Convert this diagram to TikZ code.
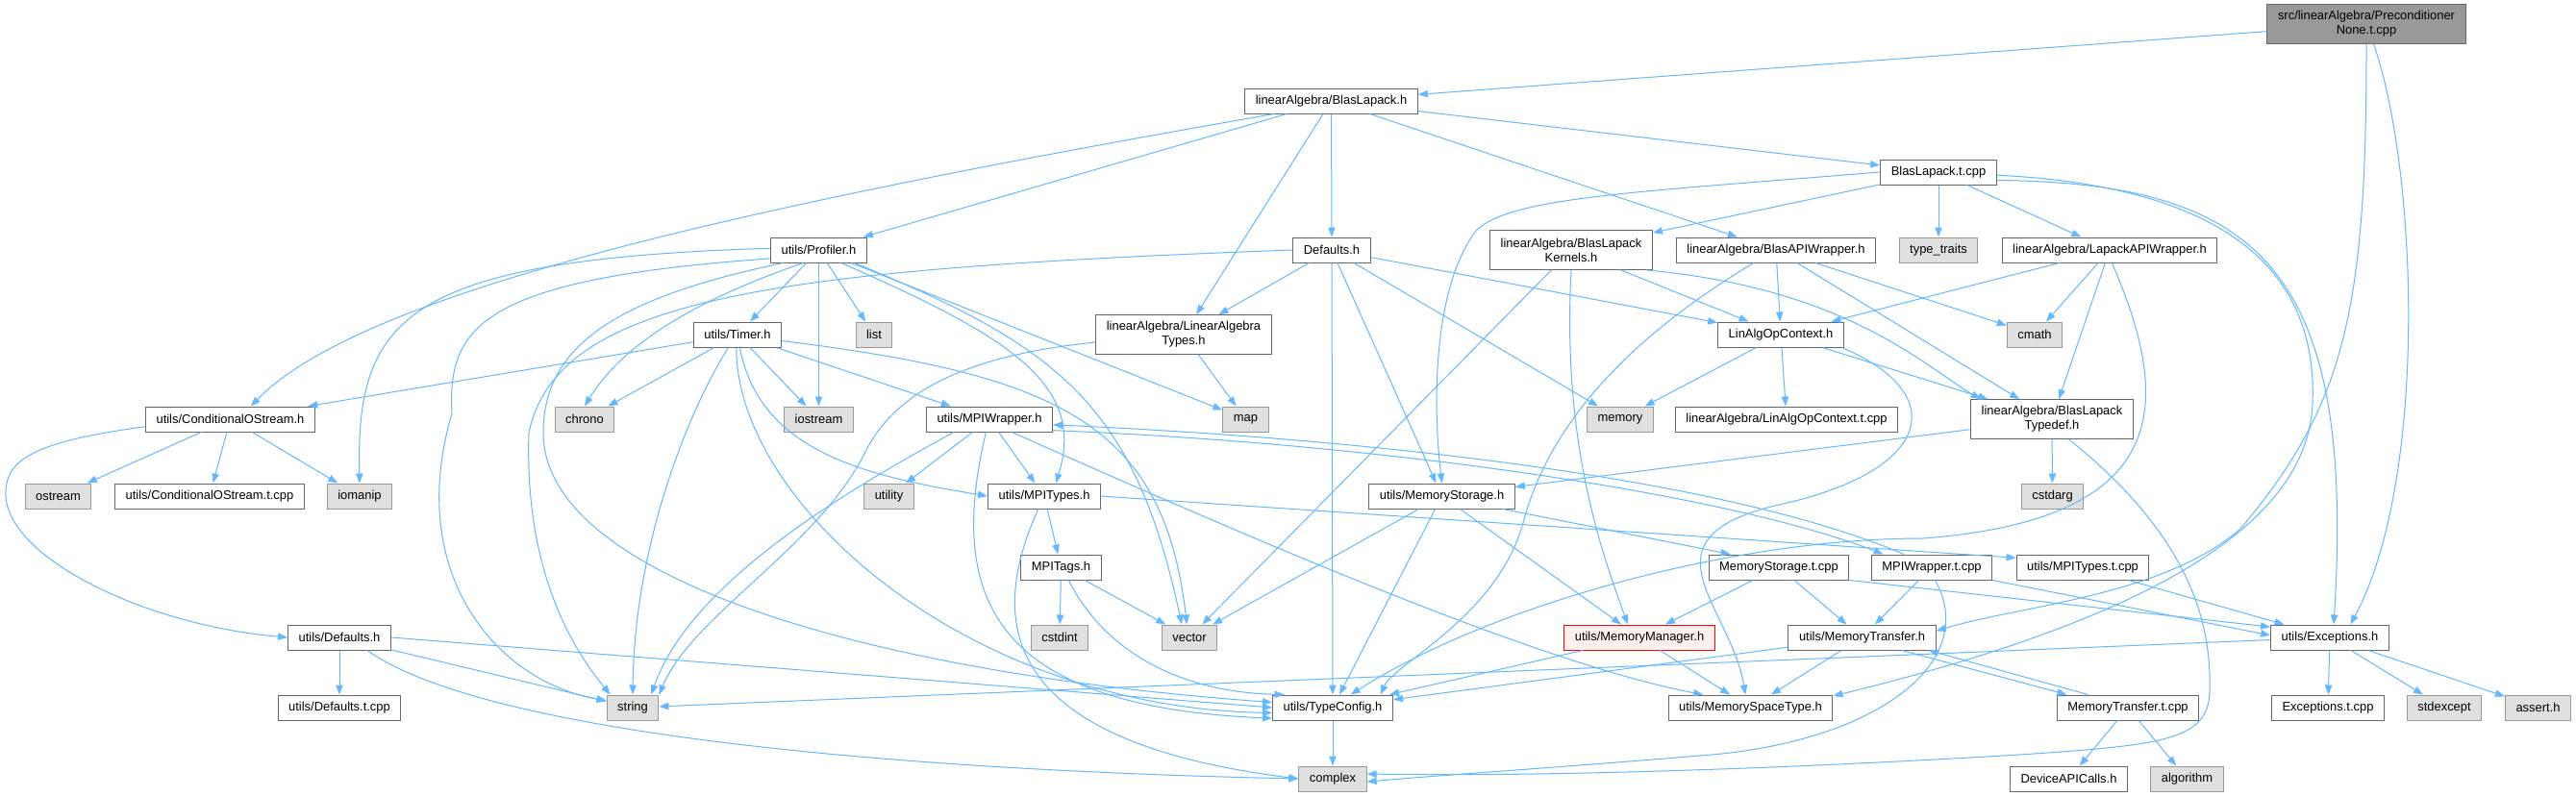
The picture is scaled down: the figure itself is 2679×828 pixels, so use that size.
\documentclass[tikz,border=0pt]{standalone}
\usepackage{fontspec}
\setmainfont{Liberation Sans}
\usetikzlibrary{arrows.meta}
\definecolor{edgeblue}{HTML}{63B8FF}
\definecolor{nodegray}{HTML}{666666}
\definecolor{sysgray}{HTML}{999999}
\definecolor{sysfill}{HTML}{E0E0E0}
\definecolor{rootfill}{HTML}{999999}
\definecolor{errfill}{HTML}{FFF0F0}
\begin{document}
\begin{tikzpicture}[x=0.75pt,y=-0.75pt,
  font=\fontsize{9.7}{11.25}\selectfont,
  filebox/.style={draw=nodegray, fill=white, line width=0.75pt, inner xsep=8.3pt, inner ysep=1pt, minimum height=19.5pt, align=center},
  sysbox/.style={filebox, draw=sysgray, fill=sysfill},
  rootbox/.style={filebox, fill=rootfill, minimum height=30.5pt},
  errbox/.style={filebox, draw=red, fill=errfill},
  twoline/.style={minimum height=30.5pt},
  dep/.style={draw=edgeblue, line width=0.75pt, -{Triangle[length=7.5pt,width=5.5pt]}}]
\path[use as bounding box, fill=white] (0,0) rectangle (2679,828);
\node[rootbox] (root) at (2461,25) {src/linearAlgebra/Preconditioner\\None.t.cpp};
\node[filebox] (blaslapackh) at (1384.5,105) {linearAlgebra/BlasLapack.h};
\node[filebox] (blaslapacktcpp) at (2016,179) {BlasLapack.t.cpp};
\node[filebox] (profiler) at (851.5,260) {utils/Profiler.h};
\node[filebox] (ladefaults) at (1385,260) {Defaults.h};
\node[filebox, twoline] (kernels) at (1634,260) {linearAlgebra/BlasLapack\\Kernels.h};
\node[filebox] (blasapi) at (1847,260) {linearAlgebra/BlasAPIWrapper.h};
\node[sysbox] (typetraits) at (2016,260) {type\_traits};
\node[filebox] (lapackapi) at (2194,260) {linearAlgebra/LapackAPIWrapper.h};
\node[filebox] (timer) at (767,348) {utils/Timer.h};
\node[sysbox] (list) at (909,348) {list};
\node[filebox, twoline] (latypes) at (1231,348) {linearAlgebra/LinearAlgebra\\Types.h};
\node[filebox] (linalgop) at (1852,348) {LinAlgOpContext.h};
\node[sysbox] (cmath) at (2116,348) {cmath};
\node[filebox] (condostream) at (239.5,436) {utils/ConditionalOStream.h};
\node[sysbox] (chrono) at (608,436) {chrono};
\node[sysbox] (iostream) at (851.5,436) {iostream};
\node[filebox] (mpiwrapper) at (1029,436) {utils/MPIWrapper.h};
\node[sysbox] (map) at (1295.5,436) {map};
\node[sysbox] (memory) at (1685,436) {memory};
\node[filebox] (linalgoptcpp) at (1858,436) {linearAlgebra/LinAlgOpContext.t.cpp};
\node[filebox, twoline] (typedef) at (2134,436) {linearAlgebra/BlasLapack\\Typedef.h};
\node[sysbox] (ostream) at (60.5,516) {ostream};
\node[filebox] (condostreamtcpp) at (218,516) {utils/ConditionalOStream.t.cpp};
\node[sysbox] (iomanip) at (374,516) {iomanip};
\node[sysbox] (utility) at (924.5,516) {utility};
\node[filebox] (mpitypes) at (1086,516) {utils/MPITypes.h};
\node[filebox] (memstorage) at (1499.5,516) {utils/MemoryStorage.h};
\node[sysbox] (cstdarg) at (2134.5,516) {cstdarg};
\node[filebox] (mpitags) at (1103.5,590) {MPITags.h};
\node[filebox] (memstoragetcpp) at (1850,590) {MemoryStorage.t.cpp};
\node[filebox] (mpiwrappertcpp) at (2009,590) {MPIWrapper.t.cpp};
\node[filebox] (mpitypestcpp) at (2166,590) {utils/MPITypes.t.cpp};
\node[filebox] (udefaults) at (353,663) {utils/Defaults.h};
\node[sysbox] (cstdint) at (1102,663) {cstdint};
\node[sysbox] (vector) at (1237,663) {vector};
\node[errbox] (memmanager) at (1705,663) {utils/MemoryManager.h};
\node[filebox] (memtransfer) at (1936.5,663) {utils/MemoryTransfer.h};
\node[filebox] (exceptions) at (2423,663) {utils/Exceptions.h};
\node[filebox] (udefaultstcpp) at (353,736) {utils/Defaults.t.cpp};
\node[sysbox] (string) at (658,736) {string};
\node[filebox] (typeconfig) at (1386,736) {utils/TypeConfig.h};
\node[filebox] (memspacetype) at (1820.5,736) {utils/MemorySpaceType.h};
\node[filebox] (memtransfertcpp) at (2213,736) {MemoryTransfer.t.cpp};
\node[filebox] (exceptionstcpp) at (2421,736) {Exceptions.t.cpp};
\node[sysbox] (stdexcept) at (2542,736) {stdexcept};
\node[sysbox] (asserth) at (2639.5,736) {assert.h};
\node[sysbox] (complex) at (1386,810) {complex};
\node[filebox] (deviceapi) at (2151.5,810) {DeviceAPICalls.h};
\node[sysbox] (algorithm) at (2274.5,810) {algorithm};
\draw[dep] (root) -- (blaslapackh);
\draw[dep] (root.south) .. controls (2461,320) and (2440,420) .. (2330,550) .. controls (2250,620) and (2100,630) .. (memtransfer.5);
\draw[dep] (root.-70) .. controls (2515,180) and (2525,500) .. ([xshift=16pt]exceptions.north);
\draw[dep] ([xshift=23pt]blaslapackh.south west) .. controls (800,210) and (380,300) .. ([xshift=16pt]condostream.north);
\draw[dep] (blaslapackh) -- (profiler);
\draw[dep] (blaslapackh) -- (latypes);
\draw[dep] (blaslapackh) -- (ladefaults);
\draw[dep] (blaslapackh) -- (blasapi);
\draw[dep] (blaslapackh) -- (blaslapacktcpp);
\draw[dep] (blaslapacktcpp) -- (kernels);
\draw[dep] (blaslapacktcpp) -- (typetraits);
\draw[dep] (blaslapacktcpp) -- (lapackapi);
\draw[dep] (blaslapacktcpp.west) .. controls (1700,200) and (1570,205) .. (1535,240) .. controls (1490,300) and (1490,420) .. (memstorage.north);
\draw[dep] (blaslapacktcpp.-3) .. controls (2340,195) and (2410,300) .. (2405,420) .. controls (2400,540) and (2250,640) .. (memspacetype.8);
\draw[dep] (blaslapacktcpp.-8) .. controls (2350,190) and (2450,280) .. ([xshift=3pt]exceptions.north);
\draw[dep] (profiler) -- (timer);
\draw[dep] (profiler) -- (iostream);
\draw[dep] (profiler) -- (list);
\draw[dep] (profiler) -- (map);
\draw[dep] (profiler.-140) .. controls (700,320) and (640,370) .. (chrono.north);
\draw[dep] (profiler.178) .. controls (420,270) and (370,330) .. (iomanip.north);
\draw[dep] (profiler.190) .. controls (500,290) and (465,340) .. (470,430) .. controls (420,600) and (520,710) .. (string.165);
\draw[dep] (profiler.200) .. controls (640,310) and (565,360) .. (565,450) .. controls (565,600) and (900,700) .. (typeconfig.175);
\draw[dep] (profiler.-30) .. controls (1050,350) and (1130,400) .. ([xshift=9pt]mpitypes.north);
\draw[dep] (profiler.-20) .. controls (1100,360) and (1180,420) .. ([xshift=-6pt]vector.north);
\draw[dep] (timer) -- (condostream);
\draw[dep] (timer) -- (chrono);
\draw[dep] (timer) -- (iostream);
\draw[dep] (timer) -- (mpiwrapper);
\draw[dep] (timer.-125) .. controls (720,420) and (660,560) .. (string.north);
\draw[dep] (timer.-95) .. controls (765,520) and (1000,735) .. (typeconfig.185);
\draw[dep] (timer.-80) .. controls (790,470) and (900,495) .. (mpitypes.west);
\draw[dep] (timer.-8) .. controls (1100,390) and (1210,440) .. ([xshift=-2pt]vector.north);
\draw[dep] (ladefaults.west) .. controls (800,280) and (580,310) .. (550,450) .. controls (545,600) and (600,680) .. (string.150);
\draw[dep] (ladefaults) -- (latypes);
\draw[dep] (ladefaults) -- (typeconfig);
\draw[dep] (ladefaults) -- (memstorage);
\draw[dep] (ladefaults) -- (memory);
\draw[dep] (ladefaults) -- (linalgop);
\draw[dep] (kernels) -- (vector);
\draw[dep] (kernels.south) .. controls (1625,450) and (1660,560) .. ([xshift=-9pt]memmanager.north);
\draw[dep] (kernels) -- (linalgop);
\draw[dep] (kernels.-15) .. controls (1920,300) and (2000,380) .. ([xshift=8pt]typedef.north west);
\draw[dep] (blasapi) -- (linalgop);
\draw[dep] (blasapi) -- (cmath);
\draw[dep] (blasapi) -- (typedef);
\draw[dep] (blasapi.-150) .. controls (1680,360) and (1610,450) .. (1585,540) .. controls (1560,640) and (1450,690) .. ([xshift=-10pt]typeconfig.north east);
\draw[dep] (lapackapi) -- (linalgop);
\draw[dep] (lapackapi) -- (cmath);
\draw[dep] (lapackapi) -- (typedef);
\draw[dep] (lapackapi.-80) .. controls (2260,420) and (2260,540) .. (2000,560) .. controls (1800,560) and (1550,630) .. ([xshift=14pt]typeconfig.north);
\draw[dep] (linalgop) -- (memory);
\draw[dep] (linalgop) -- (linalgoptcpp);
\draw[dep] (linalgop) -- (typedef);
\draw[dep] (linalgop.-12) .. controls (2030,410) and (2010,490) .. (1850,525) .. controls (1700,560) and (1800,630) .. ([xshift=-4pt]memspacetype.north);
\draw[dep] (typedef) -- (cstdarg);
\draw[dep] (typedef) -- (memstorage);
\draw[dep] (typedef.-50) .. controls (2280,560) and (2300,650) .. (2298,720) .. controls (2296,770) and (2250,775) .. (2100,785) .. controls (1850,800) and (1600,808) .. (complex.8);
\draw[dep] (condostream) -- (ostream);
\draw[dep] (condostream) -- (condostreamtcpp);
\draw[dep] (condostream) -- (iomanip);
\draw[dep] (condostream.185) .. controls (30,460) and (5,480) .. (6,515) .. controls (8,580) and (150,650) .. (udefaults.west);
\draw[dep] (mpiwrapper) -- (utility);
\draw[dep] (mpiwrapper) -- (mpitypes);
\draw[dep] (mpiwrapper.-160) .. controls (900,500) and (720,600) .. (string.35);
\draw[dep] (mpiwrapper.-105) .. controls (985,620) and (1030,735) .. (typeconfig.190);
\draw[dep] (mpiwrapper.-30) .. controls (1300,560) and (1600,690) .. ([xshift=-37pt]memspacetype.north);
\draw[dep] (mpiwrapper.-10) .. controls (1450,462) and (1800,515) .. (mpiwrappertcpp.165);
\draw[dep] (mpiwrappertcpp.155) .. controls (1800,500) and (1450,458) .. (mpiwrapper.-5);
\draw[dep] (mpitypes) -- (mpitags);
\draw[dep] (mpitypes.-115) .. controls (1030,640) and (1030,770) .. (complex.west);
\draw[dep] (mpitypes.east) -- (mpitypestcpp.172);
\draw[dep] (memstorage) -- (vector);
\draw[dep] (memstorage) -- (typeconfig);
\draw[dep] (memstorage) -- (memmanager);
\draw[dep] (memstorage.-12) -- (memstoragetcpp.165);
\draw[dep] (mpitags) -- (cstdint);
\draw[dep] (mpitags) -- (vector);
\draw[dep] (mpitags.-60) .. controls (1150,680) and (1230,720) .. (typeconfig.165);
\draw[dep] (memstoragetcpp) -- (memmanager);
\draw[dep] (memstoragetcpp) -- (memtransfer);
\draw[dep] (memstoragetcpp.south east) -- (exceptions.170);
\draw[dep] (mpiwrappertcpp) -- (memtransfer);
\draw[dep] (mpiwrappertcpp.south east) -- (exceptions.178);
\draw[dep] (mpiwrappertcpp.-75) .. controls (2060,690) and (1950,770) .. (1780,785) .. controls (1600,800) and (1500,806) .. (complex.-5);
\draw[dep] (mpitypestcpp) -- (exceptions);
\draw[dep] (memmanager) -- (typeconfig);
\draw[dep] (memmanager) -- (memspacetype);
\draw[dep] (memtransfer) -- (typeconfig);
\draw[dep] (memtransfer) -- (memspacetype);
\draw[dep] (memtransfer.-18) -- (memtransfertcpp.168);
\draw[dep] (memtransfertcpp.162) -- (memtransfer.-11);
\draw[dep] (memtransfertcpp) -- (deviceapi);
\draw[dep] (memtransfertcpp) -- (algorithm);
\draw[dep] (exceptions) -- (exceptionstcpp);
\draw[dep] (exceptions) -- (stdexcept);
\draw[dep] (exceptions) -- (asserth);
\draw[dep] (exceptions) -- (string);
\draw[dep] (udefaults) -- (udefaultstcpp);
\draw[dep] (udefaults) -- (string);
\draw[dep] (udefaults.east) -- (typeconfig.west);
\draw[dep] (udefaults.-25) .. controls (500,760) and (900,800) .. (complex.west);
\draw[dep] (typeconfig) -- (complex);
\draw[dep] (latypes) -- (map);
\draw[dep] (latypes.185) .. controls (1000,370) and (930,410) .. (900,470) .. controls (850,570) and (720,640) .. (string.north east);
\end{tikzpicture}
\end{document}
